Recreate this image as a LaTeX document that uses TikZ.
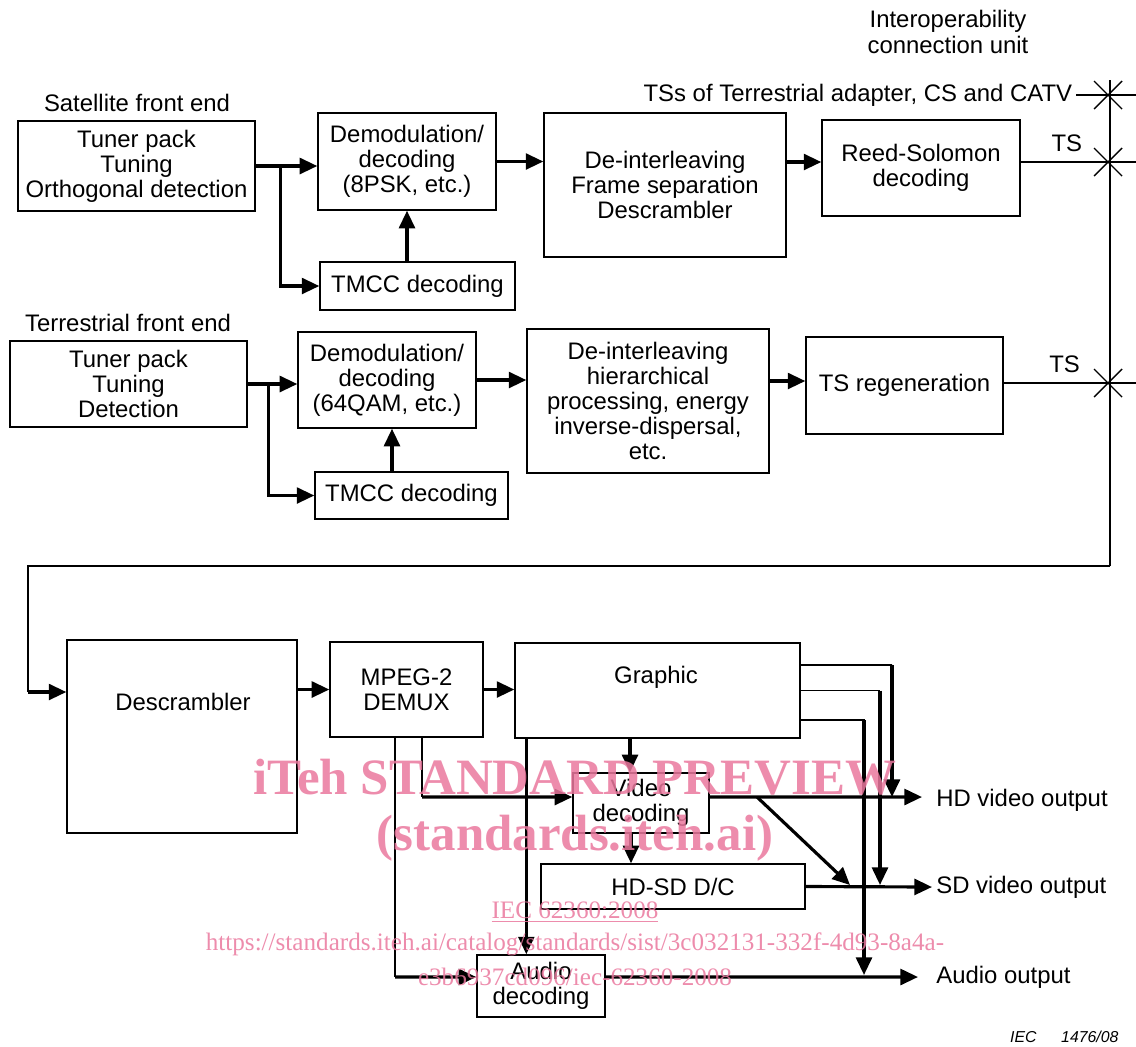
\documentclass[tikz,border=0pt]{standalone}
\usepackage{fontspec}
\setmainfont{Liberation Sans}
\newfontfamily\wmfont{Liberation Serif}
\usepackage{tikz}
\usetikzlibrary{arrows.meta}
\definecolor{wmpink}{RGB}{234,120,158}

\begin{document}
\begin{tikzpicture}[x=0.02cm, y=-0.02cm,
    font=\fontsize{13.6}{14.3}\selectfont,
    box/.style={draw, line width=0.8pt, inner sep=0pt, align=center},
    arr/.style={line width=1.8pt, -{Triangle[length=10pt,width=9pt]}},
    wire/.style={line width=0.8pt},
    wmark/.style={text=wmpink, opacity=0.85, font=\wmfont\fontsize{29}{30}\bfseries}]
    \useasboundingbox (0,0) rectangle (1136,1046);
    % Satellite chain
    \node at (137,103) (satlabel) {Satellite front end};
    \node[box, minimum width=4.74cm, minimum height=1.8cm] at (136.5,166) (sattuner) {Tuner pack\\Tuning\\Orthogonal detection};
    \node[box, minimum width=3.56cm, minimum height=1.94cm] at (407,161.5) (satdemod) {Demodulation/\\decoding\\(8PSK, etc.)};
    \node[box, minimum width=3.9cm, minimum height=0.96cm] at (417.5,286) (sattmcc) {TMCC decoding};
    \node[box, minimum width=4.84cm, minimum height=2.88cm] at (665,185) (satdeint) {De-interleaving\\Frame separation\\Descrambler};
    \node[box, minimum width=3.96cm, minimum height=1.92cm] at (921,168) (rs) {Reed-Solomon\\decoding};
    \draw[arr] (sattuner.east) -- (sattuner.east -| satdemod.west);
    \draw[arr] ([xshift=0.5cm]sattuner.east) |- (sattmcc.west);
    \draw[arr] (satdemod.south |- sattmcc.north) -- (satdemod.south);
    \draw[arr] (satdemod.east) -- (satdemod.east -| satdeint.west);
    \draw[arr] ([yshift=0.12cm]rs.west -| satdeint.east) -- ([yshift=0.12cm]rs.west);
    % Terrestrial chain
    \node at (128,323) (terlabel) {Terrestrial front end};
    \node[box, minimum width=4.74cm, minimum height=1.72cm] at (128.5,384) (tertuner) {Tuner pack\\Tuning\\Detection};
    \node[box, minimum width=3.56cm, minimum height=1.92cm] at (387,380) (terdemod) {Demodulation/\\decoding\\(64QAM, etc.)};
    \node[box, minimum width=3.86cm, minimum height=0.94cm] at (411.5,495.5) (tertmcc) {TMCC decoding};
    \node[box, minimum width=4.84cm, minimum height=2.88cm] at (648,401) (terdeint) {De-interleaving\\hierarchical\\processing, energy\\inverse-dispersal,\\etc.};
    \node[box, minimum width=3.94cm, minimum height=1.94cm] at (904.5,385.5) (tsregen) {TS regeneration};
    \draw[arr] (tertuner.east) -- (tertuner.east -| terdemod.west);
    \draw[arr] ([xshift=0.42cm]tertuner.east) |- (tertmcc.west);
    \draw[arr] ([xshift=0.1cm]terdemod.south |- tertmcc.north) -- ([xshift=0.1cm]terdemod.south);
    \draw[arr] (terdemod.east) -- (terdemod.east -| terdeint.west);
    \draw[arr] ([yshift=0.09cm]tsregen.west -| terdeint.east) -- ([yshift=0.09cm]tsregen.west);
    % Interoperability connection unit
    \node[align=center] at (948,32) (iculabel) {Interoperability\\[1pt]connection unit};
    \coordinate (bustop) at (1110,80);
    \coordinate (busbot) at (1110,566);
    \coordinate (xtop) at (1108,95);
    \coordinate (xsat) at (1108,162);
    \coordinate (xter) at (1108,383);
    \node[anchor=east, inner sep=2pt] at (1076,95) (tsother) {TSs of Terrestrial adapter, CS and CATV};
    \draw[wire] (bustop) -- (busbot);
    \draw[wire] (tsother.east) -- (1136,95);
    \draw[wire] (rs.east |- xsat) -- (1136,162) node[pos=0.4, above=2pt] (tssat) {TS};
    \draw[wire] (tsregen.east |- xter) -- (1136,383) node[pos=0.46, above=2pt] (tster) {TS};
    \foreach \c in {xtop, xsat, xter}
        \draw[wire] (\c) +(-14,-14) -- +(14,14) +(-14,14) -- +(14,-14);
    % Receiver back end
    \node[box, minimum width=4.6cm, minimum height=3.86cm] at (182,736.5) (descr) {};
    \node at (183,702) (descrtext) {Descrambler};
    \node[box, minimum width=3.06cm, minimum height=1.9cm] at (406.5,689.5) (demux) {MPEG-2\\DEMUX};
    \node[box, minimum width=5.7cm, minimum height=1.9cm] at (657.5,690.5) (graphic) {};
    \node at (656,677) (graphictext) {Graphic};
    \node[box, minimum width=2.72cm, minimum height=1.2cm] at (641,803) (viddec) {Video\\decoding};
    \node[box, minimum width=5.28cm, minimum height=0.9cm] at (673,886.5) (hdsd) {HD-SD D/C};
    \node[box, minimum width=2.56cm, minimum height=1.24cm] at (541,986) (auddec) {Audio\\decoding};
    \coordinate (loopin) at (28,692);
    \draw[wire] (busbot) -| (loopin);
    \draw[arr] (loopin) -- (loopin -| descr.west);
    \draw[arr] (demux.west -| descr.east) -- (demux.west);
    \draw[arr] (demux.east) -- (demux.east -| graphic.west);
    \draw[arr] ([xshift=-0.22cm]viddec.north |- graphic.south) -- ([xshift=-0.22cm]viddec.north);
    \draw[arr] ([xshift=-0.2cm]viddec.south) -- ([xshift=-0.2cm]viddec.south |- hdsd.north);
    \draw[arr] ([xshift=0.24cm]graphic.south west) -- ([xshift=0.24cm]graphic.south west |- auddec.north);
    \draw[wire] ([xshift=0.31cm]demux.south) -- ([xshift=0.31cm]demux.south |- 0,797);
    \draw[arr] ([xshift=0.31cm]demux.south |- 0,797) -- ([yshift=0.12cm]viddec.west);
    \draw[wire] ([xshift=-0.23cm]demux.south) -- ([xshift=-0.23cm]demux.south |- 0,977);
    \draw[arr] ([xshift=-0.23cm]demux.south |- 0,977) -- ([yshift=0.18cm]auddec.west);
    % Outputs
    \node[anchor=west, inner sep=0pt] at (936,800) (hdout) {HD video output};
    \node[anchor=west, inner sep=0pt] at (936,887) (sdout) {SD video output};
    \node[anchor=west, inner sep=0pt] at (936,977) (audout) {Audio output};
    \coordinate (hdjoin) at (892,797);
    \coordinate (sdjoin) at (880,885);
    \coordinate (audjoin) at (864,975);
    \draw[arr] ([yshift=0.12cm]viddec.east) -- (922,797);
    \draw[arr] (hdsd.east) -- (932,887);
    \draw[arr] ([yshift=0.18cm]auddec.east) -- (918,977);
    \draw[arr] (757,797) -- (850,885);
    \draw[wire] ([yshift=0.51cm]graphic.east) -| (hdjoin |- 0,665);
    \draw[arr] (hdjoin |- 0,665) -- (hdjoin);
    \draw[wire] (graphic.east) -| (sdjoin |- graphic.east);
    \draw[arr] (sdjoin |- graphic.east) -- (sdjoin);
    \draw[wire] ([yshift=-0.59cm]graphic.east) -| (audjoin |- 0,720);
    \draw[arr] (audjoin |- 0,720) -- (audjoin);
    % Figure number
    \node[anchor=west, font=\fontsize{9}{10}\itshape] at (1004,1037) (iec) {IEC};
    \node[anchor=west, font=\fontsize{9}{10}\itshape] at (1055,1037) (fignum) {1476/08};
    % Watermark
    \node[wmark] at (575,777) (wm1) {iTeh STANDARD PREVIEW};
    \node[wmark] at (575,838) (wm2) {(standards.iteh.ai)};
    \node[wmark, font=\wmfont\fontsize{14.3}{15}\selectfont] at (575,912) (wm3) {\underline{IEC 62360:2008}};
    \node[wmark, font=\wmfont\fontsize{14.3}{15}\selectfont] at (575,944) (wm4) {https://standards.iteh.ai/catalog/standards/sist/3c032131-332f-4d93-8a4a-};
    \node[wmark, font=\wmfont\fontsize{14.3}{15}\selectfont] at (575,977) (wm5) {e3b6937cd096/iec-62360-2008};
\end{tikzpicture}
\end{document}
